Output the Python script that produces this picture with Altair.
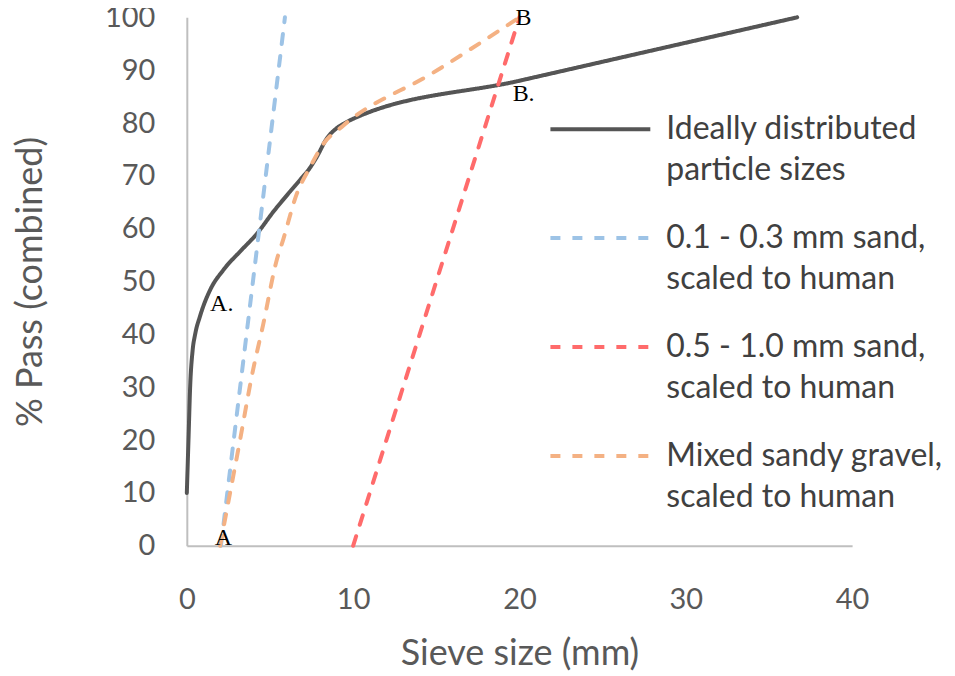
import altair as alt
import pandas as pd

# ---- data ----
series_names = [
    "Ideally distributed|particle sizes",
    "0.1 - 0.3 mm sand,|scaled to human",
    "0.5 - 1.0 mm sand,|scaled to human",
    "Mixed sandy gravel,|scaled to human",
]
series_colors = ["#555555", "#9DC3E6", "#FF6B6B", "#F4B183"]

ideal_x = [0, 0.1, 0.2, 0.35, 0.5, 0.8, 1.4, 2.2, 3.3, 4.2, 5.2, 6.2, 6.8, 7.4, 7.8, 8.4, 9.0, 9.5, 10.0, 20.0, 36.7]
ideal_y = [10, 20, 30, 37, 40, 43.5, 48.4, 52.2, 56, 59, 63.2, 67, 69.2, 71.5, 73.5, 77, 79, 80, 80.8, 88, 100]

fine_x = [2.05, 5.9]
fine_y = [0, 100]

coarse_x = [10, 20]
coarse_y = [0, 100]

mixed_x = [2.0, 2.6, 3.2, 3.9, 4.6, 5.4, 5.8, 6.6, 7.4, 8.2, 9.4, 14.8, 20.0]
mixed_y = [0, 10, 20, 32, 42, 54, 58, 66.5, 71.6, 76, 79.5, 89.5, 100]

ann_text = ["A", "A.", "B", "B."]
ann_x = [2.2, 2.1, 20.25, 20.25]
ann_y = [1.4, 45.7, 99.9, 85.4]

rows = []
for name, xs, ys in zip(series_names,
                        [ideal_x, fine_x, coarse_x, mixed_x],
                        [ideal_y, fine_y, coarse_y, mixed_y]):
    for i, (xv, yv) in enumerate(zip(xs, ys)):
        rows.append({"series": name, "x": xv, "y": yv, "order": i})
df = pd.DataFrame(rows)
ann = pd.DataFrame({"label": ann_text, "x": ann_x, "y": ann_y})

FONT = "Lato"

xscale = alt.Scale(domain=[0, 40], nice=False, zero=False)
yscale = alt.Scale(domain=[0, 100], nice=False)

lines = alt.Chart(df).mark_line(strokeWidth=4, strokeCap="round", interpolate="monotone").encode(
    x=alt.X("x:Q", scale=xscale, title="Sieve size (mm)",
            axis=alt.Axis(values=[0, 10, 20, 30, 40], grid=False, ticks=False, labelFlush=False,
                          labelPadding=40, titlePadding=22)),
    y=alt.Y("y:Q", scale=yscale, title="% Pass (combined)",
            axis=alt.Axis(values=list(range(0, 101, 10)), grid=False, ticks=False, labelFlush=False,
                          labelPadding=32, titlePadding=55)),
    color=alt.Color("series:N",
                    scale=alt.Scale(domain=series_names, range=series_colors),
                    legend=alt.Legend(title=None, orient="none", legendX=362, legendY=60,
                                      symbolType="stroke", symbolSize=10000,
                                      symbolStrokeWidth=4, labelFont=FONT,
                                      labelFontSize=32, labelColor="#404040",
                                      labelExpr="split(datum.label, '|')",
                                      labelOffset=14, rowPadding=0,
                                      labelLimit=400)),
    strokeDash=alt.StrokeDash("series:N",
                              scale=alt.Scale(domain=series_names,
                                              range=[[1, 0], [10, 12], [10, 12], [10, 12]]),
                              legend=None),
    order="order:Q",
)

texts = alt.Chart(ann).mark_text(font="Liberation Serif", fontSize=24, color="black").encode(
    x=alt.X("x:Q", scale=xscale),
    y=alt.Y("y:Q", scale=yscale),
    text="label:N",
)

chart = alt.layer(lines, texts).properties(
    width=666, height=529,
    autosize=alt.AutoSizeParams(type="none"),
    padding={"left": 179, "top": 9, "right": 95, "bottom": 130},
).configure(
    view=alt.ViewConfig(stroke=None),
    axis=alt.AxisConfig(
        domainColor="#BFBFBF", domainWidth=2,
        labelFont=FONT, labelFontSize=29, labelColor="#595959",
        titleFont=FONT, titleFontSize=36, titleColor="#595959", titleFontWeight="normal",
    ),
    style={"guide-label": {"lineHeight": 41}},
)

chart.save("out.html", embed_options={"renderer": "svg", "actions": False})
